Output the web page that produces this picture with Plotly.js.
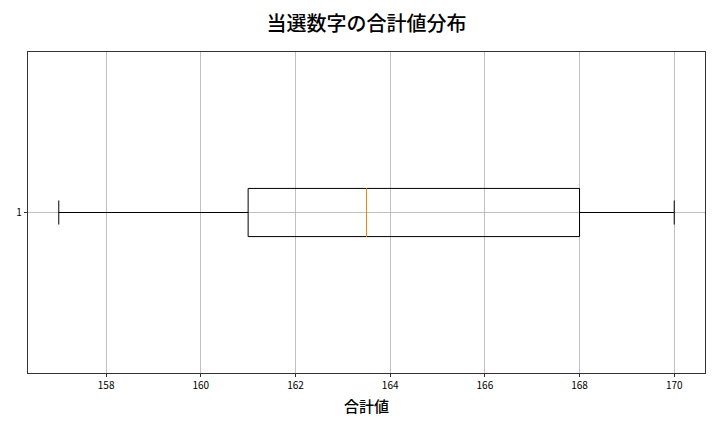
<!DOCTYPE html>
<html>
<head>
<meta charset="utf-8">
<script src="https://cdn.plot.ly/plotly-3.0.1.min.js"></script>
<style>body{margin:0;background:#fff}</style>
</head>
<body>
<div id="myDiv" style="width:720px;height:432px"></div>
<script>
// box statistics of the sum of winning numbers
var positions = [1];
var lowVals = [157];
var q1Vals = [161];
var medVals = [163.5];
var q3Vals = [168];
var highVals = [170];
var xTicks = [158, 160, 162, 164, 166, 168, 170];

var box = {
    type: 'box',
    orientation: 'h',
    y: positions,
    q1: q1Vals,
    median: medVals,
    q3: q3Vals,
    lowerfence: lowVals,
    upperfence: highVals,
    width: 0.15,
    whiskerwidth: 0.5,
    fillcolor: 'rgba(0,0,0,0)',
    line: {color: '#000000', width: 1},
    boxpoints: false,
    hoverinfo: 'skip',
    showlegend: false
};

// matplotlib draws the median in orange, so overlay a flat box for it
var median = {
    type: 'box',
    orientation: 'h',
    y: positions,
    q1: medVals,
    median: medVals,
    q3: medVals,
    lowerfence: medVals,
    upperfence: medVals,
    width: 0.15,
    whiskerwidth: 0,
    fillcolor: 'rgba(0,0,0,0)',
    line: {color: '#ff7f0e', width: 1},
    boxpoints: false,
    hoverinfo: 'skip',
    showlegend: false
};

var layout = {
    width: 720,
    height: 432,
    margin: {l: 28, r: 15, t: 52, b: 59, pad: 0},
    paper_bgcolor: '#ffffff',
    plot_bgcolor: '#ffffff',
    font: {family: '"Noto Sans CJK JP", "DejaVu Sans", sans-serif', color: '#000000', size: 10},
    title: {text: '当選数字の合計値分布', font: {size: 20, weight: 500}, xref: 'paper', x: 0.5, xanchor: 'center', yref: 'container', y: 0.945, yanchor: 'middle'},
    xaxis: {
        range: [156.35, 170.65],
        tickvals: xTicks,
        ticks: 'outside', ticklen: 3.5, tickcolor: '#000', tickwidth: 0.8,
        showgrid: true, gridcolor: '#b0b0b0', gridwidth: 0.8,
        zeroline: false,
        showline: true, mirror: true, linecolor: '#000', linewidth: 0.8,
        title: {text: '合計値', font: {size: 15, weight: 500}, standoff: 10},
        tickfont: {size: 10}
    },
    yaxis: {
        range: [0.5, 1.5],
        tickvals: positions,
        ticktext: ['1'],
        ticks: 'outside', ticklen: 3.5, tickcolor: '#000', tickwidth: 0.8,
        showgrid: true, gridcolor: '#b0b0b0', gridwidth: 0.8,
        zeroline: false,
        showline: true, mirror: true, linecolor: '#000', linewidth: 0.8,
        tickfont: {size: 10}
    }
};

Plotly.newPlot('myDiv', [box, median], layout, {staticPlot: true});
</script>
</body>
</html>
